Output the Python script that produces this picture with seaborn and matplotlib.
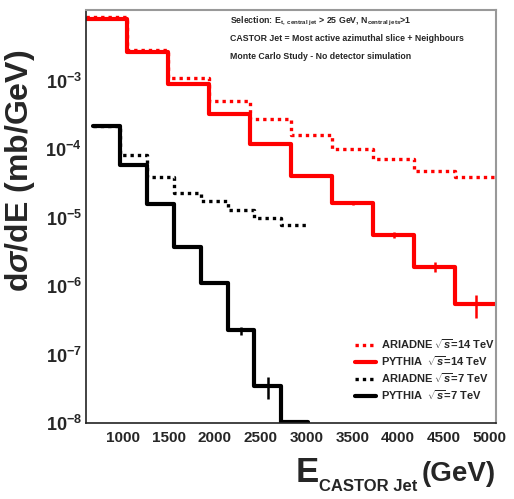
import numpy as np
import matplotlib
matplotlib.use('Agg')
import matplotlib.pyplot as plt
import seaborn as sns
from matplotlib.lines import Line2D
from matplotlib.ticker import LogLocator, FuncFormatter, MultipleLocator, NullFormatter, FixedLocator

# ---------------- data ----------------
edges_14 = [597, 1044, 1491, 1938, 2385, 2832, 3279, 3726, 4173, 4620, 5067]
edges_7 = [675, 968, 1261, 1554, 1847, 2140, 2433, 2726, 3019]
ariadne_14 = [8.4e-3, 2.76e-3, 1.07e-3, 5.0e-4, 2.76e-4, 1.61e-4, 1.0e-4, 7.1e-5, 4.7e-5, 3.9e-5]
pythia_14 = [8.0e-3, 2.58e-3, 9.0e-4, 3.27e-4, 1.19e-4, 4.0e-5, 1.61e-5, 5.6e-6, 1.9e-6, 5.4e-7]
ariadne_7 = [2.2e-4, 8.2e-5, 3.9e-5, 2.25e-5, 1.72e-5, 1.27e-5, 1.0e-5, 7.9e-6]
pythia_7 = [2.18e-4, 5.8e-5, 1.55e-5, 3.75e-6, 1.11e-6, 2.25e-7, 3.5e-8, 1.02e-8]
pythia_14_relerr = [0.01, 0.01, 0.01, 0.02, 0.02, 0.03, 0.05, 0.10, 0.16, 0.36]
pythia_7_relerr = [0.01, 0.01, 0.02, 0.03, 0.05, 0.13, 0.35, 0.0]
x_ticks = [1000, 1500, 2000, 2500, 3000, 3500, 4000, 4500, 5000]
y_ticks = [1e-8, 1e-7, 1e-6, 1e-5, 1e-4, 1e-3]
legend_labels = [r"ARIADNE $\sqrt{s}$=14 TeV", r"PYTHIA  $\sqrt{s}$=14 TeV",
                 r"ARIADNE $\sqrt{s}$=7 TeV", r"PYTHIA  $\sqrt{s}$=7 TeV"]
info_lines = [r"Selection: E$_{\mathregular{t,\ central\ jet}}$ > 25 GeV, N$_{\mathregular{central\ jets}}$>1",
              "CASTOR Jet = Most active azimuthal slice + Neighbours",
              "Monte Carlo Study - No detector simulation"]

# ---------------- style ----------------
sns.set_style("white")
FAM = ['Liberation Sans', 'DejaVu Sans']
plt.rcParams['font.family'] = FAM
plt.rcParams['font.weight'] = 'bold'
plt.rcParams['mathtext.fontset'] = 'custom'
plt.rcParams['mathtext.rm'] = 'Liberation Sans:bold'
plt.rcParams['mathtext.bf'] = 'Liberation Sans:bold'
plt.rcParams['mathtext.it'] = 'Liberation Sans:italic:bold'
plt.rcParams['mathtext.sf'] = 'Liberation Sans:bold'

fig = plt.figure(figsize=(5.14, 4.99), dpi=100)
ax = fig.add_axes([86/514, 1-423/499, 410/514, 413/499])

RED = '#ff0000'
BLK = '#000000'


def centers(e):
    e = np.asarray(e, float)
    return 0.5 * (e[:-1] + e[1:])


series = [
    (edges_14, ariadne_14, RED, (0, (1, 1.2)), 2.4),
    (edges_14, pythia_14, RED, '-', 3.0),
    (edges_7, ariadne_7, BLK, (0, (1, 1.2)), 2.4),
    (edges_7, pythia_7, BLK, '-', 3.0),
]
for e, v, c, ls, lw in series:
    sns.histplot(x=centers(e), weights=v, bins=e, element='step', fill=False,
                 stat='count', color=c, linestyle=ls, linewidth=lw, ax=ax)

# error bars
for e, v, r, c in [(edges_14, pythia_14, pythia_14_relerr, RED),
                   (edges_7, pythia_7, pythia_7_relerr, BLK)]:
    v = np.asarray(v)
    err = v * np.asarray(r)
    ax.errorbar(centers(e), v, yerr=err, fmt='none', ecolor=c, elinewidth=1.8, capsize=0)

ax.set_yscale('log')
ax.set_xlim(edges_14[0], edges_14[-1])
ax.set_ylim(1e-8, 1.07e-2)

# ticks
ax.xaxis.set_major_locator(FixedLocator(x_ticks))
ax.xaxis.set_minor_locator(MultipleLocator(100))
ax.yaxis.set_major_locator(FixedLocator(y_ticks))
ax.yaxis.set_minor_locator(LogLocator(base=10, subs=np.arange(2, 10), numticks=20))
ax.yaxis.set_minor_formatter(NullFormatter())


def yfmt(val, pos):
    ex = int(round(np.log10(val)))
    return r"$\mathregular{10^{%d}}$" % ex


ax.yaxis.set_major_formatter(FuncFormatter(yfmt))
ax.tick_params(axis='both', which='both', direction='in', top=False, right=False,
               color='#333333')
ax.tick_params(axis='x', which='major', length=9, width=1, labelsize=11, pad=6)
ax.tick_params(axis='x', which='minor', length=5, width=1)
ax.tick_params(axis='y', which='major', length=12, width=1, labelsize=13, pad=3)
ax.tick_params(axis='y', which='minor', length=6, width=1)
for lab in ax.get_xticklabels():
    lab.set_fontweight('bold')

for s in ['left', 'bottom']:
    ax.spines[s].set_color('#222222')
    ax.spines[s].set_linewidth(1.2)
for s in ['top', 'right']:
    ax.spines[s].set_color('#999999')
    ax.spines[s].set_linewidth(1.5)

ax.set_xlabel('')
ax.set_ylabel('')

# axis titles
fig.text(20/514, 1-171/499, r"d$\sigma$/dE (mb/GeV)", rotation=90, ha='center', va='center',
         fontsize=23, fontweight='bold')
fig.text(319/514, 1-482/499, "E", ha='right', va='baseline', fontsize=25, fontweight='bold')
fig.text(319/514, 1-491/499, "CASTOR Jet", ha='left', va='baseline', fontsize=12, fontweight='bold')
fig.text(496/514, 1-481/499, "(GeV)", ha='right', va='baseline', fontsize=20, fontweight='bold')

# info text
for i, t in enumerate(info_lines):
    ax.text((230-86)/410, (423-21-i*18)/413, t, transform=ax.transAxes,
            ha='left', va='center', fontsize=6.3, fontweight='bold')

# legend
handles = [Line2D([], [], color=RED, linestyle=(0, (1, 1.2)), lw=2.4),
           Line2D([], [], color=RED, linestyle='-', lw=3.0),
           Line2D([], [], color=BLK, linestyle=(0, (1, 1.2)), lw=2.4),
           Line2D([], [], color=BLK, linestyle='-', lw=3.0)]
leg = ax.legend(handles, legend_labels, loc='upper left',
                bbox_to_anchor=((355-86)/410, (423-337)/413), frameon=False,
                fontsize=8, borderpad=0, borderaxespad=0, handlelength=1.9,
                handletextpad=0.4, labelspacing=0.3)

fig.savefig('out.png', dpi=100, facecolor='white')
